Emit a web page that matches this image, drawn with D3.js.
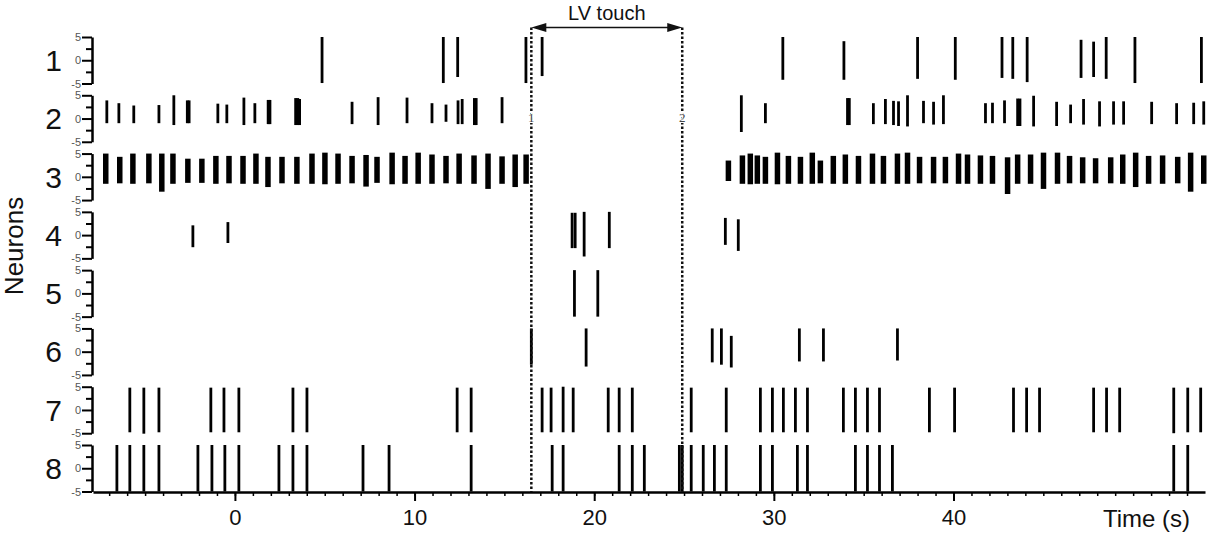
<!DOCTYPE html>
<html>
<head>
<meta charset="utf-8">
<script src="https://cdn.jsdelivr.net/npm/d3@7"></script>
<style>
  body { margin: 0; background: #fff; }
  text { font-family: "Liberation Sans", Arial, sans-serif; }
</style>
</head>
<body>
<div id="chart"></div>
<script>
const neurons = [1, 2, 3, 4, 5, 6, 7, 8];
const timeTicks = [0, 10, 20, 30, 40];
const ampTicks = [-5, 0, 5];
const ampMinorTicks = [-2.5, 2.5];
const touchTimes = [16.5, 24.9];
const touchMarks = ["1", "2"];
const touchLabel = "LV touch";

// spikes: [time (s), top, bottom]
const spikes1 = [
    [4.85, 5, -4.9], [11.6, 5, -4.9], [12.4, 5, -3.6], [16.2, 5, -4.9], [17.1, 5, -3.4],
    [30.5, 5, -4.2], [33.9, 4.1, -4.2], [38.0, 5, -4], [40.1, 5, -4.2], [42.7, 5, -3.8],
    [43.3, 5, -4], [44.1, 5, -4.7], [47.1, 4.4, -3.8], [47.8, 4, -3.6], [48.5, 5, -4],
    [50.1, 5, -4.9], [53.8, 5, -4.9]
];

const spikes2 = [
    [-7.13, 3.9, -1], [-6.46, 3.3, -1], [-5.63, 2.8, -1], [-4.23, 2.9, -1], [-3.40, 5, -1.4],
    [-2.65, 3.9, -1], [-2.55, 3.9, -1], [-0.95, 3.2, -1], [-0.45, 3, -1], [0.50, 4.5, -1.4],
    [1.11, 3.3, -1], [1.85, 4, -1.2], [1.95, 4, -1.2], [3.38, 4.4, -1.4], [3.5, 4.4, -1.4],
    [3.6, 4.2, -1.4], [6.52, 3.6, -1.2], [7.97, 4.6, -1.4], [9.58, 4.5, -1], [10.97, 3.3, -1],
    [11.75, 3, -0.7], [12.42, 3.9, -1.2], [12.65, 4.2, -1.2], [13.33, 4.4, -1.4], [13.43, 4.4, -1.4],
    [14.87, 4.6, -1], [28.19, 5, -2.9], [29.53, 3.3, -1], [34.1, 4.4, -1.4], [34.2, 4.4, -1.4],
    [35.54, 3.3, -1.2], [36.21, 4.2, -1.2], [36.66, 3.8, -1.4], [36.94, 3.7, -1.6], [37.44, 5, -1.7],
    [38.33, 3.8, -1], [38.89, 3.6, -1.3], [39.44, 5, -1.2], [41.78, 3.3, -1], [42.17, 3.4, -1],
    [42.84, 3.9, -1], [43.57, 4.3, -1.6], [43.7, 4.3, -1.6], [44.46, 4.9, -1.7], [45.74, 3.6, -1.6],
    [46.52, 3, -1], [47.24, 4.2, -1.3], [48.13, 3.7, -1.7], [48.91, 3.7, -1.3], [49.47, 3.7, -1.3],
    [51.03, 3.6, -1.2], [52.42, 3.3, -1.2], [53.37, 3.4, -1.2], [53.93, 3.7, -1.3]
];

const spikes3 = [
    [-7.19, 5, -1.5], [-6.41, 4.3, -1.4], [-5.68, 5, -1.5], [-4.79, 5, -1.4], [-4.07, 5, -3.2],
    [-3.45, 5, -1.5], [-2.62, 3.9, -1.3], [-1.84, 3.9, -1.3], [-1.06, 4.5, -1.5], [-0.33, 4.5, -1.4],
    [0.45, 4.5, -1.5], [1.17, 5, -1.5], [1.84, 4.3, -2.2], [2.62, 4.3, -1.4], [3.45, 4.3, -1.5],
    [4.29, 5, -1.5], [5.01, 5.2, -1.6], [5.74, 5, -1.5], [6.52, 4.5, -1.4], [7.30, 4.7, -2.1],
    [7.91, 4.3, -1.3], [8.75, 5.2, -1.6], [9.47, 4.5, -1.5], [10.20, 5.2, -1.5], [10.97, 4.8, -1.5],
    [11.75, 4.5, -1.4], [12.48, 5, -1.5], [13.31, 4.6, -1.5], [14.09, 5, -2.6], [14.87, 4.4, -1.5],
    [15.60, 4.8, -2.2], [16.21, 4.8, -1.5],
    [27.47, 3.5, -0.9], [28.25, 4.6, -1.5], [28.69, 5, -1.6], [29.08, 4.6, -1.5], [29.53, 4.3, -1.5],
    [30.20, 5.2, -1.6], [30.81, 4.5, -1.5], [31.48, 4.3, -1.5], [32.14, 5.2, -1.5], [32.59, 3.5, -1.4],
    [33.31, 4.5, -1.5], [33.98, 4.8, -1.5], [34.71, 4.5, -1.5], [35.49, 5, -1.5], [36.10, 4.5, -1.5],
    [36.88, 5, -1.5], [37.44, 5.2, -1.5], [38.11, 4.3, -1.4], [38.89, 4.3, -1.4], [39.55, 4.3, -1.4],
    [40.28, 5, -1.5], [40.78, 4.8, -1.5], [41.50, 4.6, -1.5], [42.17, 4.5, -1.5], [43.01, 4.2, -3.7],
    [43.57, 4.8, -1.5], [44.29, 4.8, -1.5], [45.01, 5.2, -2.6], [45.79, 5.2, -1.5], [46.46, 4.5, -1.4],
    [47.19, 4.2, -1.4], [47.91, 4, -1.4], [48.75, 4.2, -1.4], [49.42, 4.8, -1.5], [50.14, 5.2, -2.2],
    [50.86, 4.5, -1.5], [51.64, 4.6, -1.5], [52.48, 4.3, -1.4], [53.20, 5.2, -3.2], [53.93, 4.6, -1.5]
];

const spikes4 = [
    [-2.34, 2.1, -2.6], [-0.39, 2.8, -1.7], [18.77, 4.8, -2.8], [18.94, 4.8, -2.8],
    [19.44, 5, -4.6], [20.84, 5, -2.8], [27.30, 3.7, -2.1], [28.02, 3.4, -3.4]
];

const spikes5 = [[18.9, 5, -5], [20.2, 5, -5]];

const spikes6 = [
    [16.5, 5, -2.8], [19.55, 5, -3.2], [26.57, 5, -2.3], [27.08, 5, -2.8],
    [27.63, 3.4, -3.4], [31.42, 5, -2.1], [32.76, 5, -2.1], [36.88, 5, -1.9]
];

const spikes7 = [
    [-5.85, 4.8, -4.8], [-5.07, 4.8, -5.1], [-4.23, 4.8, -4.8], [-1.34, 4.8, -4.8], [-0.61, 4.8, -4.8],
    [0.22, 4.8, -4.8], [3.23, 4.8, -4.8], [4.01, 4.8, -4.8], [12.37, 4.8, -4.8], [13.15, 4.8, -4.8],
    [17.1, 4.8, -4.8], [17.6, 4.8, -4.8], [18.27, 5, -4.8], [18.83, 4.8, -4.8], [20.78, 4.8, -4.8],
    [21.39, 4.8, -4.8], [22.12, 4.8, -4.8], [25.40, 4.8, -4.8], [27.35, 4.8, -4.8], [29.25, 4.8, -4.8],
    [29.92, 4.8, -4.8], [30.53, 4.8, -4.8], [31.2, 4.8, -4.8], [31.87, 4.8, -4.8], [33.87, 4.8, -4.8],
    [34.54, 4.8, -4.8], [35.21, 4.8, -4.8], [35.88, 4.8, -4.8], [38.66, 4.8, -4.8], [40.06, 4.8, -4.8],
    [43.34, 4.8, -4.8], [44.07, 4.8, -4.8], [44.79, 4.8, -4.8], [47.8, 4.8, -4.8], [48.52, 4.8, -4.8],
    [49.25, 4.8, -4.8], [52.26, 4.8, -5], [53.04, 4.8, -4.8], [53.76, 4.8, -4.8]
];

const spikes8 = [
    [-6.57, 5, -5], [-5.85, 5, -5], [-5.07, 5, -5], [-4.23, 5, -5], [-2.06, 5, -5], [-1.28, 5, -5],
    [-0.56, 5, -5], [0.22, 5, -5], [2.45, 5, -5], [3.23, 5, -5], [4.01, 5, -5], [7.13, 5, -5],
    [8.58, 5, -5], [13.15, 5, -5], [17.66, 5, -5], [18.27, 5, -5], [21.39, 5, -5], [22.12, 5, -5],
    [22.79, 5, -5], [24.74, 5, -5], [24.9, 5, -5], [25.40, 5, -5], [26.07, 5, -5], [26.69, 5, -5],
    [27.35, 5, -5], [29.25, 5, -5], [29.92, 5, -5], [31.31, 5, -5], [31.87, 5, -5], [34.54, 5, -5],
    [35.21, 5, -5], [35.88, 5, -5], [36.6, 5, -5], [52.26, 5, -5], [53.04, 5, -5]
];

const spikesByNeuron = [spikes1, spikes2, spikes3, spikes4, spikes5, spikes6, spikes7, spikes8];

const width = 1208, height = 533;
const axisX = 92, baseY = 492, panelH = 46.5;

const svg = d3.select('#chart').append('svg')
    .attr('width', width)
    .attr('height', height);

const x = d3.scaleLinear().domain([-7.9, 54]).range([93, 1205]);
const panelTop = d3.scaleLinear().domain([1, 8]).range([37, 445]);
const yAmp = d3.scaleLinear().domain([-5, 5]).range([panelH, 0]);

// spikes and per-neuron axes
neurons.forEach((n, i) => {
    const top = panelTop(n);
    const g = svg.append('g').attr('transform', `translate(0,${top})`);

    g.selectAll('line.spike')
        .data(spikesByNeuron[i])
        .join('line')
        .attr('class', 'spike')
        .attr('x1', d => x(d[0]))
        .attr('x2', d => x(d[0]))
        .attr('y1', d => yAmp(d[1]))
        .attr('y2', d => yAmp(d[2]))
        .attr('stroke', '#000')
        .attr('stroke-width', n === 3 ? 5.5 : 2.8);

    const ax = g.append('g')
        .attr('transform', `translate(${axisX},0)`)
        .call(d3.axisLeft(yAmp).tickValues(ampTicks).tickSize(10).tickSizeOuter(0)
            .tickPadding(1).tickFormat(d => String(d)));
    ax.select('.domain').attr('stroke', '#000').attr('stroke-width', 2.5);
    ax.selectAll('.tick line').attr('stroke', '#000').attr('stroke-width', 2);
    ax.selectAll('.tick text').attr('fill', '#555').style('font-size', '11px');

    const minor = g.append('g')
        .attr('transform', `translate(${axisX},0)`)
        .call(d3.axisLeft(yAmp).tickValues(ampMinorTicks).tickSize(6).tickFormat(''));
    minor.select('.domain').remove();
    minor.selectAll('.tick line').attr('stroke', '#000').attr('stroke-width', 2);

    g.append('text')
        .attr('x', 62)
        .attr('y', panelH / 2)
        .attr('dy', '0.36em')
        .attr('text-anchor', 'end')
        .style('font-size', '30px')
        .attr('fill', '#111')
        .text(n);
});

// time axis
const xAxis = svg.append('g')
    .attr('transform', `translate(0,${baseY})`)
    .call(d3.axisBottom(x).tickValues(timeTicks).tickSize(9).tickSizeOuter(0).tickPadding(8));
xAxis.select('.domain').attr('stroke', '#000').attr('stroke-width', 2.5);
xAxis.selectAll('.tick line').attr('stroke', '#000').attr('stroke-width', 2);
xAxis.selectAll('.tick text').attr('fill', '#111').style('font-size', '22px');

const xMinor = svg.append('g')
    .attr('transform', `translate(0,${baseY})`)
    .call(d3.axisBottom(x).tickValues(d3.range(-7, 54)).tickSize(4).tickFormat(''));
xMinor.select('.domain').remove();
xMinor.selectAll('.tick line').attr('stroke', '#000').attr('stroke-width', 1.5);

svg.append('text')
    .attr('x', 1190)
    .attr('y', 527)
    .attr('text-anchor', 'end')
    .style('font-size', '24px')
    .attr('fill', '#111')
    .text('Time (s)');

svg.append('text')
    .attr('transform', 'translate(23,246) rotate(-90)')
    .attr('text-anchor', 'middle')
    .style('font-size', '26px')
    .attr('fill', '#111')
    .text('Neurons');

// touch markers
const arrowY = 27.5;
svg.selectAll('line.touch')
    .data(touchTimes)
    .join('line')
    .attr('class', 'touch')
    .attr('x1', d => x(d))
    .attr('x2', d => x(d))
    .attr('y1', arrowY)
    .attr('y2', baseY)
    .attr('stroke', '#111')
    .attr('stroke-width', 2.5)
    .attr('stroke-dasharray', '2.5,2');

svg.selectAll('text.mark')
    .data(touchTimes)
    .join('text')
    .attr('class', 'mark')
    .attr('x', d => x(d))
    .attr('y', 117)
    .attr('dy', '0.35em')
    .attr('text-anchor', 'middle')
    .style('font-family', '"Liberation Serif", "DejaVu Serif", serif')
    .style('font-size', '13px')
    .attr('fill', '#444')
    .attr('stroke', '#fff')
    .attr('stroke-width', 2)
    .attr('paint-order', 'stroke')
    .text((d, i) => touchMarks[i]);

const xa = x(touchTimes[0]), xb = x(touchTimes[1]);
svg.append('line')
    .attr('x1', xa + 10).attr('x2', xb - 10)
    .attr('y1', arrowY).attr('y2', arrowY)
    .attr('stroke', '#111').attr('stroke-width', 1.5);
svg.append('path')
    .attr('d', `M${xa},${arrowY}L${xa + 15},${arrowY - 4.5}L${xa + 15},${arrowY + 4.5}Z`)
    .attr('fill', '#111');
svg.append('path')
    .attr('d', `M${xb},${arrowY}L${xb - 15},${arrowY - 4.5}L${xb - 15},${arrowY + 4.5}Z`)
    .attr('fill', '#111');

svg.append('text')
    .attr('x', (xa + xb) / 2)
    .attr('y', 20)
    .attr('text-anchor', 'middle')
    .style('font-size', '20px')
    .attr('fill', '#111')
    .text(touchLabel);
</script>
</body>
</html>
